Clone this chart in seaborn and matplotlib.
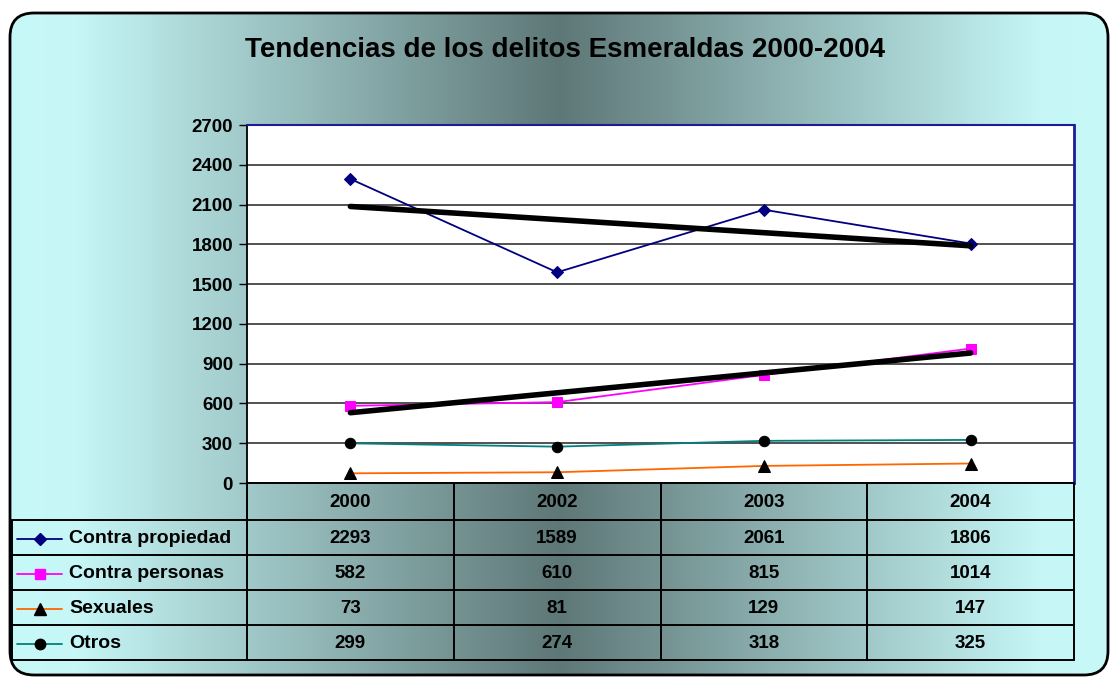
import numpy as np
import pandas as pd
import matplotlib
matplotlib.use("Agg")
import matplotlib.pyplot as plt
import seaborn as sns
from matplotlib.patches import FancyBboxPatch
from matplotlib.colors import LinearSegmentedColormap
from matplotlib.lines import Line2D

# ---------------- data ----------------
years = ["2000", "2002", "2003", "2004"]
series_names = ["Contra propiedad", "Contra personas", "Sexuales", "Otros"]
contra_propiedad = [2293, 1589, 2061, 1806]
contra_personas = [582, 610, 815, 1014]
sexuales = [73, 81, 129, 147]
otros = [299, 274, 318, 325]
y_ticks = [0, 300, 600, 900, 1200, 1500, 1800, 2100, 2400, 2700]
title = "Tendencias de los delitos Esmeraldas 2000-2004"

values = [contra_propiedad, contra_personas, sexuales, otros]
line_colors = ["#000080", "#FF00FF", "#FF6600", "#008080"]
marker_colors = ["#000080", "#FF00FF", "#000000", "#000000"]
markers = ["D", "s", "^", "o"]
marker_sizes = [6.5, 7.5, 8.5, 7.5]
trend_series = [0, 1]

df = pd.DataFrame({
    "pos": np.tile(np.arange(len(years)), len(series_names)),
    "serie": np.repeat(series_names, len(years)),
    "valor": np.concatenate([np.array(v) for v in values]),
})

sns.set_theme(style="white")
plt.rcParams["font.family"] = ["Liberation Sans", "DejaVu Sans"]
plt.rcParams["font.weight"] = "bold"
plt.rcParams["text.color"] = "black"
plt.rcParams["ytick.color"] = "black"
plt.rcParams["ytick.labelcolor"] = "black"

W, H = 1110, 677
fig = plt.figure(figsize=(W / 100, H / 100), dpi=100)
fig.patch.set_facecolor("white")

# ---------------- background gradient in rounded box ----------------
bg = fig.add_axes([0, 0, 1, 1])
bg.set_xlim(0, W)
bg.set_ylim(H, 0)
bg.axis("off")
cmap = LinearSegmentedColormap.from_list(
    "g", [(0.0, "#C8F9F9"), (0.06, "#C6F6F6"), (0.5, "#5E7777"), (0.94, "#C6F6F6"), (1.0, "#C8F9F9")])
grad = np.linspace(0, 1, 512)[None, :]
im = bg.imshow(grad, extent=[10, 1108, 675, 13], aspect="auto", cmap=cmap, zorder=0)
box = FancyBboxPatch((10, 13), 1098, 662, boxstyle="round,pad=0,rounding_size=24",
                     facecolor="none", edgecolor="black", linewidth=2, zorder=2)
bg.add_patch(box)
im.set_clip_path(box)

fig.text(565 / W, 1 - 50 / H, title, ha="center", va="center",
         fontsize=20, fontweight="bold", color="black")

# ---------------- plot area ----------------
L, R, T, B = 247, 1074, 125, 483
ax = fig.add_axes([L / W, 1 - B / H, (R - L) / W, (B - T) / H])
ax.set_facecolor("white")
for i, name in enumerate(series_names):
    sub = df[df["serie"] == name]
    sns.lineplot(data=sub, x="pos", y="valor", ax=ax, color=line_colors[i], linewidth=1.3,
                 marker=markers[i], markersize=marker_sizes[i],
                 markerfacecolor=marker_colors[i], markeredgecolor=marker_colors[i],
                 legend=False, zorder=4)
xs = np.arange(len(years))
for i in trend_series:
    coef = np.polyfit(xs, np.array(values[i], dtype=float), 1)
    sns.lineplot(x=xs[[0, -1]], y=np.polyval(coef, xs[[0, -1]]), ax=ax, color="black",
                 linewidth=4, legend=False, zorder=5)

ax.set_xlim(-0.5, len(years) - 0.5)
ax.set_ylim(y_ticks[0], y_ticks[-1])
ax.set_yticks(y_ticks)
ax.set_yticklabels([str(t) for t in y_ticks], fontsize=13.5, fontweight="bold", color="black")
ax.set_xticks([])
ax.set_xlabel("")
ax.set_ylabel("")
ax.yaxis.grid(True, color="#222222", linewidth=1.1)
ax.set_axisbelow(True)
ax.tick_params(axis="y", which="both", left=True, length=6, width=1, color="black", pad=4)
ax.spines["left"].set_color("black")
ax.spines["left"].set_linewidth(1.3)
ax.spines["top"].set_color("#1C1C99")
ax.spines["top"].set_linewidth(1.5)
ax.spines["right"].set_color("#1C1C99")
ax.spines["right"].set_linewidth(2)
ax.spines["bottom"].set_visible(False)

# ---------------- data table ----------------
tb = fig.add_axes([0, 0, 1, 1], facecolor="none")
tb.set_xlim(0, W)
tb.set_ylim(H, 0)
tb.axis("off")
col_w = (R - L) / len(years)
col_edges = [L + k * col_w for k in range(len(years) + 1)]
row_edges = [483, 520, 555, 590, 625, 660]
lk = dict(color="black", linewidth=1.4, zorder=3)
for xe in col_edges:
    tb.plot([xe, xe], [row_edges[0], row_edges[-1]], **lk)
tb.plot([12, 12], [row_edges[1], row_edges[-1]], **lk)
tb.plot([L, R], [row_edges[0], row_edges[0]], **lk)
for ye in row_edges[1:]:
    tb.plot([12, R], [ye, ye], **lk)

for j, yr in enumerate(years):
    tb.text((col_edges[j] + col_edges[j + 1]) / 2, (row_edges[0] + row_edges[1]) / 2 + 1, yr,
            ha="center", va="center", fontsize=13.5, fontweight="bold", color="black")
for i, name in enumerate(series_names):
    yc = (row_edges[i + 1] + row_edges[i + 2]) / 2 + 1
    for j in range(len(years)):
        tb.text((col_edges[j] + col_edges[j + 1]) / 2, yc, str(values[i][j]),
                ha="center", va="center", fontsize=13.5, fontweight="bold", color="black")
    tb.add_line(Line2D([17, 62], [yc, yc], color=line_colors[i], linewidth=1.3, zorder=4))
    tb.add_line(Line2D([39.5], [yc], marker=markers[i], markersize=marker_sizes[i],
                       markerfacecolor=marker_colors[i], markeredgecolor=marker_colors[i],
                       linestyle="none", zorder=5))
    tb.text(69, yc, name, ha="left", va="center", fontsize=14, fontweight="bold", color="black")

fig.savefig("out.png", dpi=100)
